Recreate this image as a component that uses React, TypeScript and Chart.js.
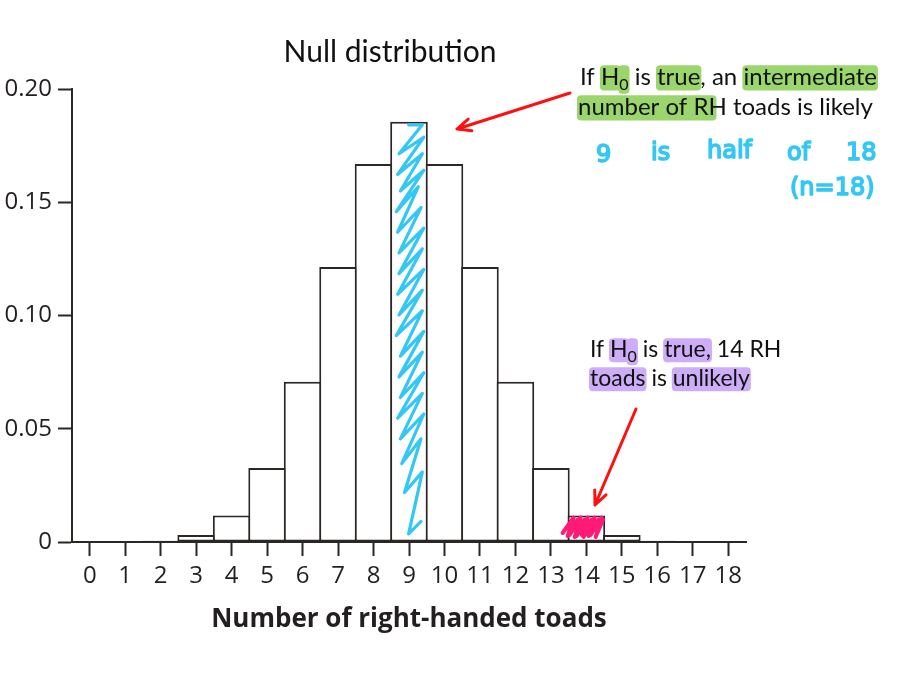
import React, { useEffect, useRef } from "react";
import { Chart, registerables } from "chart.js";

Chart.register(...registerables);

// ---- data ----
const categories = ["0", "1", "2", "3", "4", "5", "6", "7", "8", "9", "10", "11", "12", "13", "14", "15", "16", "17", "18"];
const probabilities = [
  0.0000038, 0.000069, 0.00058, 0.0031, 0.0117, 0.0327, 0.0708, 0.1214, 0.1669, 0.1855,
  0.1669, 0.1214, 0.0708, 0.0327, 0.0117, 0.0031, 0.00058, 0.000069, 0.0000038,
];
const yTickValues = [0, 0.05, 0.1, 0.15, 0.2];
const yTickLabels = ["0", "0.05", "0.10", "0.15", "0.20"];
const titleText = "Null distribution";
const xTitleText = "Number of right-handed toads";
const observedValue = 14;
const expectedValue = 9;

const INK = "#2b2725";
const GREEN = "#9ad66c";
const PURPLE = "#cdadf7";
const BLUE = "#33c7f5";
const RED = "#ff1010";
const PINK = "#ff1a78";
const AXIS_FONT = "'Open Sans', sans-serif";
const NOTE_FONT = "Lato, 'Open Sans', sans-serif";

type Seg = { t: string; hl?: string; sub?: boolean; extra?: number };

function drawRich(ctx: CanvasRenderingContext2D, x: number, y: number, segs: Seg[], size: number) {
  const mainFont = `${size}px ${NOTE_FONT}`;
  const subFont = `${Math.round(size * 0.68)}px ${NOTE_FONT}`;
  let cx = x;
  const widths: number[] = [];
  for (const s of segs) {
    ctx.font = s.sub ? subFont : mainFont;
    widths.push(ctx.measureText(s.t).width);
  }
  cx = x;
  segs.forEach((s, i) => {
    const w = widths[i];
    if (s.hl) {
      ctx.fillStyle = s.hl;
      const top = y - size * 0.82;
      const h = size * (s.sub ? 1.18 : 1.05);
      ctx.beginPath();
      (ctx as any).roundRect(cx - 1, top, w + 2 + (s.extra || 0), h, 4);
      ctx.fill();
    }
    cx += w;
  });
  cx = x;
  ctx.fillStyle = "#111111";
  ctx.textBaseline = "alphabetic";
  ctx.textAlign = "left";
  segs.forEach((s, i) => {
    ctx.font = s.sub ? subFont : mainFont;
    ctx.fillText(s.t, cx, s.sub ? y + size * 0.2 : y);
    cx += widths[i];
  });
}

function drawArrow(ctx: CanvasRenderingContext2D, x1: number, y1: number, x2: number, y2: number) {
  ctx.save();
  ctx.strokeStyle = RED;
  ctx.lineWidth = 3;
  ctx.lineCap = "round";
  ctx.lineJoin = "round";
  ctx.beginPath();
  ctx.moveTo(x1, y1);
  ctx.lineTo(x2, y2);
  const a = Math.atan2(y2 - y1, x2 - x1);
  const L = 15;
  const sp = 0.42;
  ctx.moveTo(x2 - L * Math.cos(a - sp), y2 - L * Math.sin(a - sp));
  ctx.lineTo(x2, y2);
  ctx.lineTo(x2 - L * Math.cos(a + sp), y2 - L * Math.sin(a + sp));
  ctx.stroke();
  ctx.restore();
}

// scribble vertices (fraction of bar interior width / height)
const zigX = [0.45, 0.95, 0.1, 1.0, 0.05, 0.95, 0.15, 1.0, 0.0, 0.8, 0.05, 0.9, 0.1, 1.0, 0.1, 0.95, 0.05, 1.0, 0.1, 0.95, 0.0, 0.95, 0.15, 1.0, 0.1, 0.95, 0.15, 1.0, 0.05, 0.95, 0.15, 1.0, 0.2, 0.9, 0.3, 0.95, 0.45, 0.9];
const zigY = [0.0, 0.0, 0.07, 0.03, 0.12, 0.07, 0.16, 0.11, 0.21, 0.15, 0.26, 0.2, 0.31, 0.25, 0.36, 0.3, 0.41, 0.35, 0.46, 0.4, 0.51, 0.45, 0.56, 0.5, 0.61, 0.55, 0.66, 0.6, 0.71, 0.65, 0.76, 0.7, 0.82, 0.76, 0.89, 0.84, 0.99, 0.96];

const annotationPlugin = {
  id: "annotations",
  afterDatasetsDraw(chart: any) {
    const ctx: CanvasRenderingContext2D = chart.ctx;
    const xs = chart.scales.x;
    const ys = chart.scales.y;
    const half = (xs.getPixelForValue(1) - xs.getPixelForValue(0)) / 2;
    const cx9 = xs.getPixelForValue(expectedValue);
    const left = cx9 - half + 5;
    const right = cx9 + half - 3;
    const top = ys.getPixelForValue(probabilities[expectedValue]) + 3;
    const bottom = ys.getPixelForValue(0) - 4;
    ctx.save();
    ctx.strokeStyle = BLUE;
    ctx.lineWidth = 3.2;
    ctx.lineJoin = "round";
    ctx.lineCap = "round";
    ctx.beginPath();
    zigX.forEach((fx, i) => {
      const px = left + fx * (right - left);
      const py = top + zigY[i] * (bottom - top);
      if (i === 0) ctx.moveTo(px, py);
      else ctx.lineTo(px, py);
    });
    ctx.stroke();
    // pink hatching in observed bar
    const cx14 = xs.getPixelForValue(observedValue);
    const pTop = ys.getPixelForValue(probabilities[observedValue]) + 2;
    const pBot = ys.getPixelForValue(0) - 5;
    ctx.strokeStyle = PINK;
    ctx.lineWidth = 4;
    ctx.beginPath();
    const startX = cx14 - half - 6;
    const steps = [0, 4, 7, 11, 14, 18, 21, 25, 28, 32];
    steps.forEach((s, i) => {
      const bx = startX + s;
      const tx = bx + 11;
      if (i === 0) ctx.moveTo(bx, pBot - 4);
      else ctx.lineTo(bx + (i % 2), pBot - (i % 3));
      ctx.lineTo(Math.min(tx, cx14 + half - 1), pTop + (i % 2) * 2);
    });
    ctx.stroke();
    ctx.restore();
  },
  afterDraw(chart: any) {
    const ctx: CanvasRenderingContext2D = chart.ctx;
    const area = chart.chartArea;
    ctx.save();
    ctx.fillStyle = "#111111";
    ctx.font = `30px ${NOTE_FONT}`;
    ctx.textAlign = "center";
    ctx.textBaseline = "alphabetic";
    ctx.fillText(titleText, 390, 62);
    ctx.fillStyle = "#231f20";
    ctx.font = `bold 26px ${AXIS_FONT}`;
    ctx.fillText(xTitleText, (area.left + area.right) / 2, 627);

    drawRich(ctx, 580, 85, [
      { t: "If " },
      { t: "H", hl: GREEN },
      { t: "0", hl: GREEN, sub: true },
      { t: " is " },
      { t: "true", hl: GREEN },
      { t: ", an " },
      { t: "intermediate", hl: GREEN },
    ], 24);
    drawRich(ctx, 578, 115, [
      { t: "number of R", hl: GREEN, extra: 7 },
      { t: "H toads is likely" },
    ], 24);

    drawRich(ctx, 590, 357, [
      { t: "If " },
      { t: "H", hl: PURPLE },
      { t: "0", hl: PURPLE, sub: true },
      { t: " is " },
      { t: "true,", hl: PURPLE },
      { t: " 14 RH" },
    ], 23);
    drawRich(ctx, 590, 386, [
      { t: "toads", hl: PURPLE },
      { t: " is " },
      { t: "unlikely", hl: PURPLE },
    ], 23);

    ctx.fillStyle = BLUE;
    ctx.strokeStyle = BLUE;
    ctx.lineWidth = 1.6;
    ctx.lineJoin = "round";
    ctx.font = `24px 'DejaVu Sans', sans-serif`;
    ctx.textAlign = "left";
    const words: [string, number, number][] = [
      ["9", 596, 162],
      ["is", 651, 160],
      ["half", 707, 158],
      ["of", 787, 160],
      ["18", 846, 160],
      ["(n=18)", 790, 195],
    ];
    words.forEach(([w, x, y]) => {
      ctx.fillText(w, x, y);
      ctx.strokeText(w, x, y);
    });

    drawArrow(ctx, 570, 93, 457, 129);
    drawArrow(ctx, 636, 409, 595, 505);
    ctx.restore();
  },
};

export default function App() {
  const ref = useRef<HTMLCanvasElement | null>(null);
  useEffect(() => {
    if (!ref.current) return;
    const chart = new Chart(ref.current, {
      type: "bar",
      data: {
        labels: categories,
        datasets: [
          {
            data: probabilities,
            backgroundColor: "#ffffff",
            borderColor: INK,
            borderWidth: 2,
            borderSkipped: false,
            barPercentage: 1.06,
            categoryPercentage: 1,
          } as any,
        ],
      },
      options: {
        animation: false,
        responsive: false,
        devicePixelRatio: 1,
        layout: { padding: { left: 0, top: 89, right: 171, bottom: 0 } },
        plugins: { legend: { display: false }, tooltip: { enabled: false }, title: { display: false } },
        scales: {
          x: {
            type: "category",
            offset: true,
            grid: { offset: false, drawOnChartArea: false, drawTicks: true, tickLength: 14, tickWidth: 2, tickColor: INK },
            border: { display: true, color: INK, width: 2 },
            ticks: {
              autoSkip: false,
              maxRotation: 0,
              padding: 6,
              color: "#231f20",
              font: { family: AXIS_FONT, size: 24 },
            },
            afterFit: (s: any) => {
              s.height = 131;
            },
          },
          y: {
            min: 0,
            max: 0.2,
            afterBuildTicks: (s: any) => {
              s.ticks = yTickValues.map((v) => ({ value: v }));
            },
            grid: { drawOnChartArea: false, drawTicks: true, tickLength: 14, tickWidth: 2, tickColor: INK },
            border: { display: true, color: INK, width: 2 },
            ticks: {
              padding: 6,
              color: "#231f20",
              font: { family: AXIS_FONT, size: 24 },
              callback: (_v: any, i: number) => yTickLabels[i],
            },
            afterFit: (s: any) => {
              s.width = 72;
            },
          },
        },
      } as any,
      plugins: [annotationPlugin],
    });
    return () => chart.destroy();
  }, []);
  return (
    <div style={{ position: "absolute", left: 0, top: 0, width: 917, height: 673, background: "#fff" }}>
      <canvas ref={ref} width={917} height={673} style={{ width: 917, height: 673, display: "block" }} />
    </div>
  );
}
